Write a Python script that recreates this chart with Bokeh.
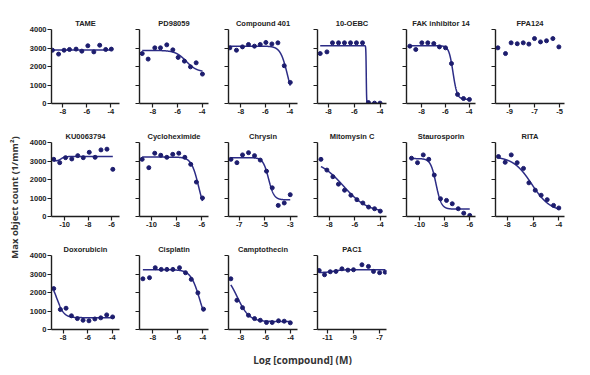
import numpy as np
from bokeh.plotting import figure
from bokeh.layouts import row, column
from bokeh.models import Range1d, FixedTicker, Spacer
from bokeh.core.properties import value
from bokeh.embed import file_html
from bokeh.resources import INLINE

# ---------------- data ----------------
titles = ["TAME", "PD98059", "Compound 401", "10-OEBC", "FAK inhibitor 14", "FPA124",
          "KU0063794", "Cycloheximide", "Chrysin", "Mitomysin C", "Staurosporin", "RITA",
          "Doxorubicin", "Cisplatin", "Camptothecin", "PAC1"]

tame_x = [-8.87, -8.36, -7.9, -7.45, -6.9, -6.42, -5.92, -5.42, -4.93, -4.43, -3.96]
tame_y = [2880, 2670, 2880, 2920, 2940, 2830, 3120, 2790, 3150, 2920, 2940]
pd_x = [-8.86, -8.38, -7.84, -7.38, -6.87, -6.38, -5.95, -5.44, -4.95, -4.49, -3.98]
pd_y = [2700, 2400, 3010, 3010, 3170, 2900, 2490, 2290, 1980, 2200, 1590]
c401_x = [-8.9, -8.36, -7.87, -7.38, -6.89, -6.42, -5.96, -5.47, -4.98, -4.46, -3.97]
c401_y = [3010, 2880, 3060, 3190, 3100, 3190, 3300, 3220, 3280, 2040, 1140]
oebc_x = [-8.64, -8.12, -7.69, -7.22, -6.76, -6.29, -5.83, -5.36, -4.9, -4.43, -4.0]
oebc_y = [2700, 2790, 3280, 3280, 3280, 3280, 3280, 3280, 50, 20, 20]
fak_x = [-8.98, -8.48, -7.97, -7.47, -6.97, -6.49, -5.98, -5.48, -4.97, -4.47, -3.97]
fak_y = [3100, 2920, 3280, 3280, 3240, 3060, 3010, 2160, 490, 270, 220]
fpa_x = [-9.93, -9.32, -8.87, -8.38, -7.9, -7.45, -7.0, -6.52, -6.04, -5.53, -5.05]
fpa_y = [3010, 2700, 3280, 3230, 3280, 3210, 3510, 3330, 3390, 3510, 3060]
ku_x = [-10.93, -10.42, -9.92, -9.39, -8.88, -8.41, -7.9, -7.4, -6.9, -6.39, -5.89]
ku_y = [3090, 2910, 3180, 3110, 3290, 3180, 3470, 3200, 3600, 3640, 2550]
cyc_x = [-10.74, -10.21, -9.74, -9.26, -8.78, -8.31, -7.83, -7.35, -6.88, -6.43, -5.95]
cyc_y = [3090, 2640, 3420, 3310, 3200, 3360, 3420, 3200, 2820, 1860, 1000]
chr_x = [-7.65, -7.18, -6.74, -6.27, -5.8, -5.35, -4.86, -4.41, -3.94, -3.47, -3.0]
chr_y = [3090, 2910, 3330, 3450, 3290, 3050, 2450, 1550, 600, 730, 1180]
mito_x = [-8.67, -8.2, -7.73, -7.29, -6.81, -6.31, -5.84, -5.37, -4.92, -4.45, -4.0]
mito_y = [3090, 2510, 2150, 1750, 1420, 1150, 910, 730, 510, 420, 290]
stau_x = [-10.66, -10.18, -9.72, -9.28, -8.84, -8.34, -7.86, -7.4, -6.92, -6.48, -6.0]
stau_y = [3150, 2910, 3330, 3090, 2240, 960, 870, 690, 420, 180, 60]
rita_x = [-8.68, -8.16, -7.69, -7.23, -6.74, -6.32, -5.83, -5.37, -4.9, -4.41, -4.0]
rita_y = [3240, 2930, 3330, 2910, 2600, 1820, 1420, 1150, 910, 600, 460]
doxo_x = [-8.76, -8.22, -7.76, -7.32, -6.84, -6.38, -5.9, -5.42, -4.94, -4.46, -3.98]
doxo_y = [2210, 1080, 1150, 740, 590, 500, 470, 570, 630, 790, 680]
cis_x = [-8.8, -8.27, -7.81, -7.33, -6.88, -6.4, -5.87, -5.39, -4.93, -4.4, -3.95]
cis_y = [2740, 2800, 3340, 3250, 3250, 3250, 3340, 3070, 2710, 1980, 1100]
cam_x = [-8.81, -8.32, -7.87, -7.39, -6.9, -6.44, -5.94, -5.48, -4.97, -4.51, -4.02]
cam_y = [2740, 1580, 1180, 770, 590, 500, 380, 380, 470, 450, 360]
pac_x = [-11.64, -11.23, -10.79, -10.35, -9.89, -9.43, -9.0, -8.35, -7.85, -7.46, -6.99, -6.56]
pac_y = [3190, 2960, 3120, 3140, 3280, 3210, 3230, 3500, 3410, 3140, 3070, 3100]

xs_all = [tame_x, pd_x, c401_x, oebc_x, fak_x, fpa_x, ku_x, cyc_x, chr_x, mito_x,
          stau_x, rita_x, doxo_x, cis_x, cam_x, pac_x]
ys_all = [tame_y, pd_y, c401_y, oebc_y, fak_y, fpa_y, ku_y, cyc_y, chr_y, mito_y,
          stau_y, rita_y, doxo_y, cis_y, cam_y, pac_y]

# fitted curve parameters: (left plateau, right plateau, logIC50, hill)
fits = [(2890, 2890, -6.0, 1.0), (2870, 1700, -5.3, 1.0), (3100, 0, -4.2, 1.5),
        (3120, 0, -5.07, 30.0), (3120, 230, -5.35, 2.5), None,
        (3000, 3240, -10.3, 3.0), (3210, 0, -6.25, 1.5), (3180, 900, -4.7, 2.0),
        (3100, 200, -6.9, 0.45), (3130, 400, -8.7, 2.0), (3250, 250, -6.1, 0.6),
        (2700, 640, -8.5, 1.5), (3230, 0, -4.25, 1.2), (3100, 430, -8.3, 0.9),
        (3080, 3230, -10.5, 1.5)]

xticks_all = [[-8, -6, -4], [-8, -6, -4], [-8, -6, -4], [-8, -6, -4], [-8, -6, -4], [-9, -7, -5],
              [-10, -8, -6], [-10, -8, -6], [-7, -5, -3], [-8, -6, -4], [-10, -8, -6], [-8, -6, -4],
              [-8, -6, -4], [-8, -6, -4], [-8, -6, -4], [-11, -9, -7]]
yticks = [0, 1000, 2000, 3000, 4000]

xranges = [(-8.95, -3.28), (-9.08, -3.49), (-9.01, -3.38), (-8.85, -3.5), (-9.26, -3.46), (-10.12, -4.6),
           (-11.12, -5.32), (-10.95, -5.47), (-7.84, -2.43), (-8.94, -3.51), (-11.06, -5.54), (-8.91, -3.56),
           (-8.94, -3.42), (-9.07, -3.55), (-9.0, -3.44), (-11.77, -6.46)]

# ---------------- styling ----------------
AX = "#1e1e1e"
DOT = "#1d1d6e"
LINE = "#2c2c86"
FONT = "Liberation Sans"
ROW_H = 113
FRAME_W = 69


def make_panel(i, first_col):
    left = 24 if first_col else 14
    w = left + FRAME_W + 6
    p = figure(width=w, height=ROW_H, x_range=Range1d(*xranges[i]), y_range=Range1d(0, 4000),
               output_backend="svg", toolbar_location=None, title=titles[i],
               min_border_left=left, min_border_right=6, min_border_top=21, min_border_bottom=18)
    p.outline_line_color = None
    p.grid.visible = False
    p.background_fill_color = "white"
    p.border_fill_color = "white"
    p.title.align = "center"
    p.title.text_font = FONT
    p.title.text_font_size = "7.5px"
    p.title.text_font_style = "bold"
    p.title.text_color = "#222222"
    p.title.standoff = 3

    p.xaxis.ticker = FixedTicker(ticks=xticks_all[i])
    p.xaxis.major_label_overrides = {t: str(t) for t in xticks_all[i]}
    p.yaxis.ticker = FixedTicker(ticks=yticks)
    if first_col:
        p.yaxis.major_label_overrides = {t: str(t) for t in yticks}
    else:
        p.yaxis.major_label_overrides = {t: "" for t in yticks}
    for ax in (p.xaxis, p.yaxis):
        ax.axis_line_color = AX
        ax.axis_line_width = 1.4
        ax.major_tick_line_color = AX
        ax.major_tick_line_width = 1.2
        ax.major_tick_in = 0
        ax.major_tick_out = 4
        ax.minor_tick_line_color = None
        ax.major_label_text_font = FONT
        ax.major_label_text_font_size = "7.5px"
        ax.major_label_text_font_style = "bold"
        ax.major_label_text_color = "#222222"
        ax.major_label_standoff = 1

    fit = fits[i]
    if fit is not None:
        lp, rp, x50, h = fit
        cx = np.linspace(min(xs_all[i]), max(xs_all[i]), 600)
        cy = rp + (lp - rp) / (1 + 10 ** ((cx - x50) * h))
        p.line(cx, cy, line_color=LINE, line_width=1.5)
    p.scatter(xs_all[i], ys_all[i], size=4, fill_color=DOT, line_color=DOT)
    return p


rows = []
idx = 0
for r, n in enumerate([6, 6, 4]):
    figs = []
    for c in range(n):
        figs.append(make_panel(idx, c == 0))
        idx += 1
    rows.append(row(*figs))

XL_H = 18
TOTAL_H = 3 * ROW_H + XL_H
grid_w = 24 + FRAME_W + 6 + 5 * (14 + FRAME_W + 6)
YL_W = 26

xl = figure(width=grid_w, height=XL_H, x_range=Range1d(0, grid_w), y_range=Range1d(0, XL_H),
            output_backend="svg", toolbar_location=None, x_axis_type=None, y_axis_type=None,
            min_border=0)
xl.outline_line_color = None
xl.grid.visible = False
xl.text(x=[276], y=[6], text=["Log [compound] (M)"], text_font=value("Open Sans"),
        text_font_size="10px", text_font_style="bold", text_color="#333333",
        text_align="center", text_baseline="middle")

yl = figure(width=YL_W, height=TOTAL_H, x_range=Range1d(0, YL_W), y_range=Range1d(0, TOTAL_H),
            output_backend="svg", toolbar_location=None, x_axis_type=None, y_axis_type=None,
            min_border=0)
yl.outline_line_color = None
yl.grid.visible = False
yl.text(x=[13.5], y=[TOTAL_H - 189], text=["Max object count (1/mm\u00b2)"], text_font=value("Open Sans"),
        text_font_size="9.5px", text_font_style="bold", text_color="#333333",
        text_align="center", text_baseline="middle", angle=np.pi / 2)

layout = column(Spacer(width=YL_W + grid_w, height=8), row(yl, column(*rows, xl)))

open("out.html", "w").write(file_html(layout, INLINE))
